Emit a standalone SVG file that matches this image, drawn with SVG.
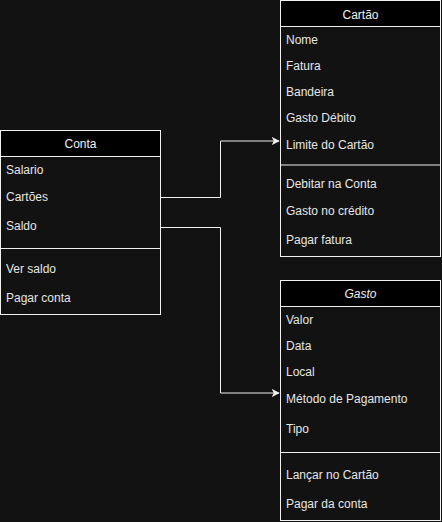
<svg xmlns="http://www.w3.org/2000/svg" width="442" height="522" viewBox="0 0 442 522">
<defs>
<style>
.box{fill:#121212;stroke:#f0f0f0;stroke-width:1}
.hdr{fill:#000000;stroke:#f0f0f0;stroke-width:1}
.sep{stroke:#f0f0f0;stroke-width:1}
text{font-family:"Liberation Sans",Arial,sans-serif;font-size:12px;fill:#e6e6e6}
.title{text-anchor:middle;fill:#f0f0f0}
.edge{fill:none;stroke:#f0f0f0;stroke-width:1}
</style>
<marker id="arr" viewBox="0 0 10 10" refX="9" refY="5" markerWidth="8" markerHeight="8" markerUnits="userSpaceOnUse" orient="auto">
<path d="M0,0 L10,5 L0,10 L2.5,5 Z" fill="#f0f0f0"/>
</marker>
</defs>
<rect width="442" height="522" fill="#121212"/>
<g id="connectors">
<path class="edge" d="M160.5,197.5 H220.5 V141 H279" marker-end="url(#arr)"/>
<path class="edge" d="M160.5,227.5 H220.5 V393 H279" marker-end="url(#arr)"/>
</g>
<g id="conta">
<rect class="box" x="0.5" y="130.5" width="160" height="184"/>
<rect class="hdr" x="0.5" y="130.5" width="160" height="26"/>
<line class="sep" x1="0.5" y1="248.5" x2="160.5" y2="248.5"/>
<text class="title" x="80.5" y="148">Conta</text>
<text x="6" y="174">Salario</text>
<text x="6" y="201">Cartões</text>
<text x="6" y="230">Saldo</text>
<text x="6" y="273">Ver saldo</text>
<text x="6" y="302">Pagar conta</text>
</g>
<g id="cartao">
<rect class="box" x="280.5" y="0.5" width="160" height="256"/>
<rect class="hdr" x="280.5" y="0.5" width="160" height="26"/>
<line class="sep" x1="280.5" y1="165" x2="440.5" y2="165"/>
<text class="title" x="360.5" y="19">Cartão</text>
<text x="286" y="44">Nome</text>
<text x="286" y="70">Fatura</text>
<text x="286" y="96">Bandeira</text>
<text x="286" y="122">Gasto Débito</text>
<text x="286" y="149">Limite do Cartão</text>
<text x="286" y="188">Debitar na Conta</text>
<text x="286" y="215">Gasto no crédito</text>
<text x="286" y="244">Pagar fatura</text>
</g>
<g id="gasto">
<rect class="box" x="280.5" y="280.5" width="160" height="240"/>
<rect class="hdr" x="280.5" y="280.5" width="160" height="26"/>
<line class="sep" x1="280.5" y1="452.5" x2="440.5" y2="452.5"/>
<text class="title" x="360.5" y="298" font-style="italic">Gasto</text>
<text x="286" y="324">Valor</text>
<text x="286" y="350">Data</text>
<text x="286" y="376">Local</text>
<text x="286" y="403">Método de Pagamento</text>
<text x="286" y="433">Tipo</text>
<text x="286" y="479">Lançar no Cartão</text>
<text x="286" y="508">Pagar da conta</text>
</g>
</svg>
